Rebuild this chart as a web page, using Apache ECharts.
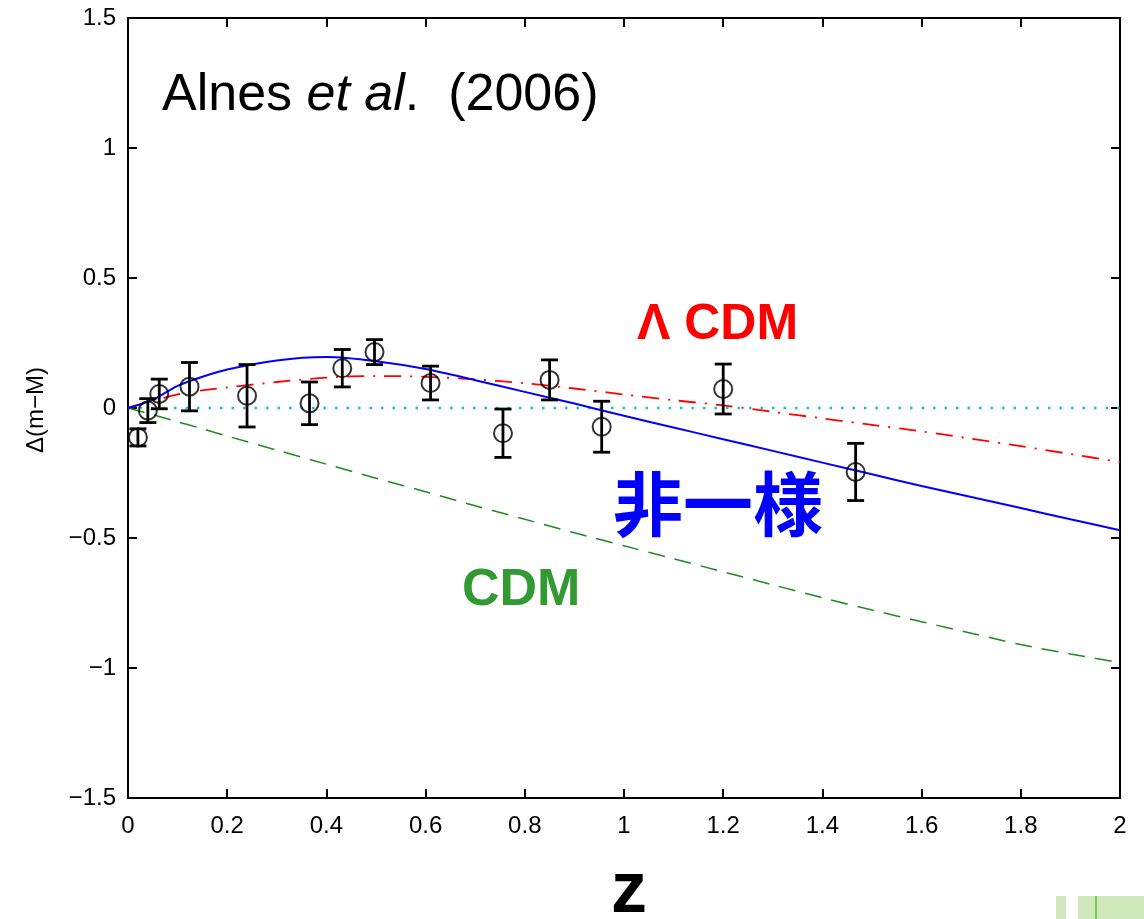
<!DOCTYPE html>
<html>
<head>
<meta charset="utf-8">
<script src="https://cdn.jsdelivr.net/npm/echarts@6/dist/echarts.min.js"></script>
<style>
  html, body { margin: 0; padding: 0; background: #fff; }
  #chart { width: 1144px; height: 919px; }
</style>
</head>
<body>
<div id="chart"></div>
<script>
// supernova points: redshift, delta(m-M), error
var zPts = [0.02, 0.04, 0.063, 0.124, 0.24, 0.366, 0.432, 0.497, 0.61, 0.756, 0.85, 0.955, 1.2, 1.467];
var dmPts = [-0.113, -0.01, 0.054, 0.082, 0.047, 0.018, 0.153, 0.215, 0.096, -0.097, 0.108, -0.072, 0.073, -0.246];
var errPts = [0.033, 0.046, 0.057, 0.093, 0.12, 0.082, 0.072, 0.048, 0.065, 0.093, 0.077, 0.098, 0.096, 0.11];

// model curves
var zGrid = [0, 0.05, 0.1, 0.15, 0.2, 0.3, 0.4, 0.5, 0.6, 0.7, 0.8, 0.9, 1.0, 1.1, 1.2, 1.3, 1.4, 1.5, 1.6, 1.7, 1.8, 1.9, 2.0];
var inhomo = [0, 0.032, 0.085, 0.12, 0.148, 0.183, 0.196, 0.18, 0.15, 0.107, 0.062, 0.017, -0.03, -0.075, -0.12, -0.165, -0.21, -0.255, -0.3, -0.342, -0.385, -0.428, -0.47];
var lcdm = [0, 0.028, 0.052, 0.068, 0.079, 0.1, 0.117, 0.123, 0.12, 0.11, 0.095, 0.075, 0.052, 0.03, 0.01, -0.015, -0.04, -0.065, -0.09, -0.118, -0.147, -0.177, -0.208];
var cdm = [0, -0.026, -0.053, -0.08, -0.108, -0.162, -0.216, -0.27, -0.322, -0.376, -0.428, -0.48, -0.53, -0.58, -0.63, -0.68, -0.73, -0.777, -0.822, -0.866, -0.91, -0.946, -0.98];
var zeroZ = [0, 2];
var zeroY = [0, 0];

function pairs(xs, ys) {
    return xs.map(function (x, i) { return [x, ys[i]]; });
}

var font = '"Liberation Sans", Arial, Helvetica, sans-serif';
var myChart = echarts.init(document.getElementById('chart'));

var boxAxis = {
    axisLine: {show: true, onZero: false, lineStyle: {color: '#000', width: 2}},
    axisTick: {show: true, inside: true, length: 9, lineStyle: {color: '#000', width: 2}},
    splitLine: {show: false}
};

var option = {
    animation: false,
    backgroundColor: '#fff',
    grid: {left: 128, right: 24, top: 18, bottom: 121},
    xAxis: [
        Object.assign({
            type: 'value', min: 0, max: 2, interval: 0.2, position: 'bottom',
            axisLabel: {color: '#000', fontSize: 24, fontFamily: font, margin: 16}
        }, boxAxis),
        Object.assign({
            type: 'value', min: 0, max: 2, interval: 0.2, position: 'top',
            axisLabel: {show: false}
        }, boxAxis)
    ],
    yAxis: [
        Object.assign({
            type: 'value', min: -1.5, max: 1.5, interval: 0.5, position: 'left',
            axisLabel: {
                color: '#000', fontSize: 24, fontFamily: font, margin: 12,
                formatter: function (v) { return String(v).replace('-', '\u2212'); }
            }
        }, boxAxis),
        Object.assign({
            type: 'value', min: -1.5, max: 1.5, interval: 0.5, position: 'right',
            axisLabel: {show: false}
        }, boxAxis)
    ],
    series: [
        {
            name: 'zero', type: 'line', data: pairs(zeroZ, zeroY), symbol: 'none',
            lineStyle: {color: '#1fc0c0', width: 2.5, type: [2.5, 9]}
        },
        {
            name: 'CDM', type: 'line', data: pairs(zGrid, cdm), symbol: 'none', smooth: 0.3,
            lineStyle: {color: '#1f8a1f', width: 1.5, type: [17, 10]}
        },
        {
            name: 'LCDM', type: 'line', data: pairs(zGrid, lcdm), symbol: 'none', smooth: 0.3,
            lineStyle: {color: '#ff0000', width: 1.8, type: [17, 9, 2, 9]}
        },
        {
            name: 'inhomogeneous', type: 'line', data: pairs(zGrid, inhomo), symbol: 'none', smooth: 0.3,
            lineStyle: {color: '#0000ff', width: 2}
        },
        {
            name: 'errors', type: 'custom',
            data: zPts.map(function (z, i) { return [z, dmPts[i] - errPts[i], dmPts[i] + errPts[i]]; }),
            renderItem: function (params, api) {
                var lo = api.coord([api.value(0), api.value(1)]);
                var hi = api.coord([api.value(0), api.value(2)]);
                var w = 8.5;
                var st = {stroke: '#000', lineWidth: 2.8, fill: null};
                return {
                    type: 'group',
                    children: [
                        {type: 'line', shape: {x1: lo[0], y1: lo[1], x2: hi[0], y2: hi[1]}, style: st},
                        {type: 'line', shape: {x1: lo[0] - w, y1: lo[1], x2: lo[0] + w, y2: lo[1]}, style: st},
                        {type: 'line', shape: {x1: hi[0] - w, y1: hi[1], x2: hi[0] + w, y2: hi[1]}, style: st}
                    ]
                };
            },
            z: 5
        },
        {
            name: 'SN', type: 'scatter', data: pairs(zPts, dmPts),
            symbol: 'circle', symbolSize: 18,
            itemStyle: {color: 'rgba(0,0,0,0)', borderColor: '#000', borderWidth: 2},
            z: 6
        }
    ],
    graphic: [
        {
            type: 'text', left: 162, top: 70,
            style: {
                text: '{n|Alnes }{i|et al}{n|.  (2006)}',
                rich: {
                    n: {fontSize: 52, fontFamily: font, fill: '#000'},
                    i: {fontSize: 52, fontFamily: font, fontStyle: 'italic', fill: '#000'}
                }
            }
        },
        {
            type: 'text', left: 637, top: 300,
            style: {text: '\u039B CDM', fontSize: 50, fontWeight: 'bold', fontFamily: font, fill: '#ff0000'}
        },
        {
            type: 'text', left: 613, top: 469,
            style: {text: '非一様', fontSize: 70, fontWeight: 'bold', fontFamily: '"Noto Sans CJK JP", sans-serif', fill: '#0000ff'}
        },
        {
            type: 'text', left: 462, top: 565,
            style: {text: 'CDM', fontSize: 52, fontWeight: 'bold', fontFamily: font, fill: '#339933'}
        },
        {
            type: 'text', x: 629, y: 892,
            style: {text: 'z', fontSize: 72, fontWeight: 'bold', fontFamily: font, fill: '#000', align: 'center', verticalAlign: 'middle'}
        },
        {
            type: 'text', x: 36, y: 410, rotation: Math.PI / 2,
            style: {text: '\u0394(m\u2212M)', fontSize: 24, fontFamily: font, fill: '#000', align: 'center', verticalAlign: 'middle'}
        },
        {type: 'rect', shape: {x: 1056, y: 896, width: 10, height: 23}, style: {fill: '#cfe9bd'}},
        {type: 'rect', shape: {x: 1078, y: 896, width: 66, height: 23}, style: {fill: '#cfe9bd'}},
        {type: 'rect', shape: {x: 1095, y: 896, width: 2, height: 23}, style: {fill: '#7acb4c'}}
    ]
};

myChart.setOption(option);
</script>
</body>
</html>
